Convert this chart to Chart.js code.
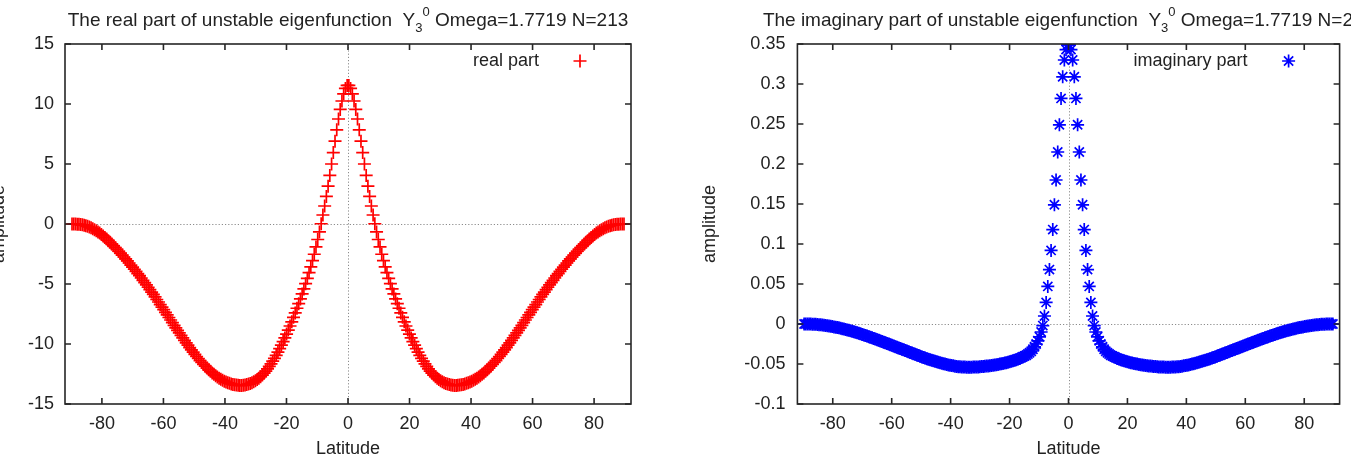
<!DOCTYPE html>
<html><head><meta charset="utf-8">
<script src="https://cdn.jsdelivr.net/npm/chart.js@4.4.1/dist/chart.umd.min.js"></script>
<style>
html,body{margin:0;padding:0;background:#fff;overflow:hidden;width:1351px;height:460px;position:relative;}
canvas{position:absolute;top:0;}
#c1{left:-20px;}
#c2{left:675px;}
</style></head><body>
<canvas id="c1" width="695" height="460"></canvas>
<canvas id="c2" width="676" height="460"></canvas>
<script>
// ---------------- data (Gaussian-like latitude grid, equator -> pole) ----------------
const latNorth = [
  0.28, 0.84, 1.41, 1.97, 2.53, 3.09, 3.66, 4.22, 4.78, 5.34,
  5.91, 6.47, 7.03, 7.59, 8.16, 8.72, 9.28, 9.84, 10.41, 10.97,
  11.53, 12.09, 12.66, 13.22, 13.78, 14.34, 14.91, 15.47, 16.03, 16.59,
  17.16, 17.72, 18.28, 18.84, 19.41, 19.97, 20.53, 21.09, 21.66, 22.22,
  22.78, 23.34, 23.91, 24.47, 25.03, 25.59, 26.16, 26.72, 27.28, 27.84,
  28.41, 28.97, 29.53, 30.09, 30.66, 31.22, 31.78, 32.34, 32.91, 33.47,
  34.03, 34.59, 35.16, 35.72, 36.28, 36.84, 37.41, 37.97, 38.53, 39.09,
  39.66, 40.22, 40.78, 41.34, 41.91, 42.47, 43.03, 43.59, 44.16, 44.72,
  45.28, 45.84, 46.41, 46.97, 47.53, 48.09, 48.66, 49.22, 49.78, 50.34,
  50.91, 51.47, 52.03, 52.59, 53.16, 53.72, 54.28, 54.84, 55.41, 55.97,
  56.53, 57.09, 57.66, 58.22, 58.78, 59.34, 59.91, 60.47, 61.03, 61.59,
  62.16, 62.72, 63.28, 63.84, 64.41, 64.97, 65.53, 66.09, 66.66, 67.22,
  67.78, 68.34, 68.91, 69.47, 70.03, 70.59, 71.16, 71.72, 72.28, 72.84,
  73.41, 73.97, 74.53, 75.09, 75.66, 76.22, 76.78, 77.34, 77.91, 78.47,
  79.03, 79.59, 80.16, 80.72, 81.28, 81.84, 82.41, 82.97, 83.53, 84.09,
  84.66, 85.22, 85.78, 86.34, 86.91, 87.47, 88.03, 88.59, 89.16, 89.72];
const latSouth = [
  -0.28, -0.84, -1.41, -1.97, -2.53, -3.09, -3.66, -4.22, -4.78, -5.34,
  -5.91, -6.47, -7.03, -7.59, -8.16, -8.72, -9.28, -9.84, -10.41, -10.97,
  -11.53, -12.09, -12.66, -13.22, -13.78, -14.34, -14.91, -15.47, -16.03, -16.59,
  -17.16, -17.72, -18.28, -18.84, -19.41, -19.97, -20.53, -21.09, -21.66, -22.22,
  -22.78, -23.34, -23.91, -24.47, -25.03, -25.59, -26.16, -26.72, -27.28, -27.84,
  -28.41, -28.97, -29.53, -30.09, -30.66, -31.22, -31.78, -32.34, -32.91, -33.47,
  -34.03, -34.59, -35.16, -35.72, -36.28, -36.84, -37.41, -37.97, -38.53, -39.09,
  -39.66, -40.22, -40.78, -41.34, -41.91, -42.47, -43.03, -43.59, -44.16, -44.72,
  -45.28, -45.84, -46.41, -46.97, -47.53, -48.09, -48.66, -49.22, -49.78, -50.34,
  -50.91, -51.47, -52.03, -52.59, -53.16, -53.72, -54.28, -54.84, -55.41, -55.97,
  -56.53, -57.09, -57.66, -58.22, -58.78, -59.34, -59.91, -60.47, -61.03, -61.59,
  -62.16, -62.72, -63.28, -63.84, -64.41, -64.97, -65.53, -66.09, -66.66, -67.22,
  -67.78, -68.34, -68.91, -69.47, -70.03, -70.59, -71.16, -71.72, -72.28, -72.84,
  -73.41, -73.97, -74.53, -75.09, -75.66, -76.22, -76.78, -77.34, -77.91, -78.47,
  -79.03, -79.59, -80.16, -80.72, -81.28, -81.84, -82.41, -82.97, -83.53, -84.09,
  -84.66, -85.22, -85.78, -86.34, -86.91, -87.47, -88.03, -88.59, -89.16, -89.72];

const realNorth = [
  11.55, 11.3, 10.85, 10.25, 9.55, 8.75, 7.85, 6.9, 5.95, 5.0,
  4.05, 3.15, 2.3, 1.5, 0.75, 0.02, -0.66, -1.29, -1.91, -2.52,
  -3.05, -3.58, -4.06, -4.53, -4.97, -5.41, -5.83, -6.24, -6.64, -7.02,
  -7.41, -7.78, -8.15, -8.5, -8.84, -9.17, -9.49, -9.8, -10.1, -10.39,
  -10.67, -10.94, -11.2, -11.43, -11.66, -11.87, -12.07, -12.26, -12.43, -12.59,
  -12.73, -12.85, -12.96, -13.06, -13.15, -13.22, -13.29, -13.34, -13.38, -13.41,
  -13.44, -13.45, -13.45, -13.44, -13.42, -13.4, -13.37, -13.33, -13.28, -13.23,
  -13.17, -13.1, -13.02, -12.94, -12.85, -12.75, -12.64, -12.53, -12.41, -12.28,
  -12.14, -12.0, -11.85, -11.7, -11.54, -11.38, -11.21, -11.04, -10.86, -10.68,
  -10.49, -10.3, -10.1, -9.9, -9.7, -9.49, -9.28, -9.07, -8.86, -8.65,
  -8.44, -8.22, -8.0, -7.79, -7.58, -7.36, -7.14, -6.93, -6.72, -6.5,
  -6.29, -6.08, -5.87, -5.67, -5.47, -5.27, -5.07, -4.88, -4.69, -4.5,
  -4.31, -4.13, -3.95, -3.77, -3.59, -3.42, -3.25, -3.08, -2.91, -2.75,
  -2.59, -2.43, -2.27, -2.12, -1.97, -1.82, -1.67, -1.53, -1.39, -1.25,
  -1.12, -0.99, -0.87, -0.76, -0.66, -0.56, -0.47, -0.39, -0.32, -0.25,
  -0.19, -0.14, -0.1, -0.07, -0.05, -0.03, -0.02, -0.01, 0.0, 0.0];
const realSouth = [
  11.55, 11.3, 10.85, 10.25, 9.55, 8.75, 7.85, 6.9, 5.95, 5.0,
  4.05, 3.15, 2.3, 1.5, 0.75, 0.02, -0.66, -1.29, -1.91, -2.52,
  -3.05, -3.58, -4.06, -4.53, -4.97, -5.41, -5.83, -6.24, -6.64, -7.02,
  -7.41, -7.78, -8.15, -8.5, -8.84, -9.17, -9.49, -9.8, -10.1, -10.39,
  -10.67, -10.94, -11.2, -11.43, -11.66, -11.87, -12.07, -12.26, -12.43, -12.59,
  -12.73, -12.85, -12.96, -13.06, -13.15, -13.22, -13.29, -13.34, -13.38, -13.41,
  -13.44, -13.45, -13.45, -13.44, -13.42, -13.4, -13.37, -13.33, -13.28, -13.23,
  -13.17, -13.1, -13.02, -12.94, -12.85, -12.75, -12.64, -12.53, -12.41, -12.28,
  -12.14, -12.0, -11.85, -11.7, -11.54, -11.38, -11.21, -11.04, -10.86, -10.68,
  -10.49, -10.3, -10.1, -9.9, -9.7, -9.49, -9.28, -9.07, -8.86, -8.65,
  -8.44, -8.22, -8.0, -7.79, -7.58, -7.36, -7.14, -6.93, -6.72, -6.5,
  -6.29, -6.08, -5.87, -5.67, -5.47, -5.27, -5.07, -4.88, -4.69, -4.5,
  -4.31, -4.13, -3.95, -3.77, -3.59, -3.42, -3.25, -3.08, -2.91, -2.75,
  -2.59, -2.43, -2.27, -2.12, -1.97, -1.82, -1.67, -1.53, -1.39, -1.25,
  -1.12, -0.99, -0.87, -0.76, -0.66, -0.56, -0.47, -0.39, -0.32, -0.25,
  -0.19, -0.14, -0.1, -0.07, -0.05, -0.03, -0.02, -0.01, 0.0, 0.0];

const imagNorth = [
  0.349, 0.343, 0.330, 0.309, 0.282, 0.249, 0.215, 0.180, 0.149, 0.118,
  0.092, 0.068, 0.047, 0.027, 0.010, -0.002, -0.010, -0.016, -0.021, -0.025,
  -0.0285, -0.0315, -0.034, -0.036, -0.0375, -0.039, -0.040, -0.041, -0.042, -0.043,
  -0.0438, -0.0446, -0.0453, -0.046, -0.0466, -0.0472, -0.0478, -0.0483, -0.0488, -0.0493,
  -0.0497, -0.0501, -0.0505, -0.0509, -0.0512, -0.0515, -0.0518, -0.0521, -0.0524, -0.0526,
  -0.0528, -0.053, -0.0532, -0.0534, -0.0536, -0.0537, -0.0538, -0.0539, -0.054, -0.054,
  -0.054, -0.054, -0.0539, -0.0538, -0.0537, -0.0535, -0.0533, -0.053, -0.0527, -0.0523,
  -0.0519, -0.0515, -0.0511, -0.0506, -0.0501, -0.0496, -0.0491, -0.0485, -0.0479, -0.0473,
  -0.0467, -0.046, -0.0454, -0.0447, -0.044, -0.0433, -0.0426, -0.0418, -0.0411, -0.0403,
  -0.0395, -0.0387, -0.0379, -0.0371, -0.0363, -0.0355, -0.0347, -0.0339, -0.0331, -0.0323,
  -0.0315, -0.0307, -0.0299, -0.0291, -0.0283, -0.0275, -0.0267, -0.0259, -0.0251, -0.0243,
  -0.0235, -0.0227, -0.0219, -0.0211, -0.0203, -0.0196, -0.0188, -0.0181, -0.0173, -0.0166,
  -0.0158, -0.0151, -0.0144, -0.0137, -0.013, -0.0123, -0.0116, -0.011, -0.0103, -0.0097,
  -0.0091, -0.0085, -0.0079, -0.0074, -0.0068, -0.0063, -0.0058, -0.0053, -0.0048, -0.0044,
  -0.004, -0.0036, -0.0032, -0.0028, -0.0024, -0.0021, -0.0018, -0.0015, -0.0012, -0.001,
  -0.0008, -0.0006, -0.0004, -0.0003, -0.0002, -0.0001, 0.0, 0.0, 0.0, 0.0];
const imagSouth = [
  0.349, 0.343, 0.330, 0.309, 0.282, 0.249, 0.215, 0.180, 0.149, 0.118,
  0.092, 0.068, 0.047, 0.027, 0.010, -0.002, -0.010, -0.016, -0.021, -0.025,
  -0.0285, -0.0315, -0.034, -0.036, -0.0375, -0.039, -0.040, -0.041, -0.042, -0.043,
  -0.0438, -0.0446, -0.0453, -0.046, -0.0466, -0.0472, -0.0478, -0.0483, -0.0488, -0.0493,
  -0.0497, -0.0501, -0.0505, -0.0509, -0.0512, -0.0515, -0.0518, -0.0521, -0.0524, -0.0526,
  -0.0528, -0.053, -0.0532, -0.0534, -0.0536, -0.0537, -0.0538, -0.0539, -0.054, -0.054,
  -0.054, -0.054, -0.0539, -0.0538, -0.0537, -0.0535, -0.0533, -0.053, -0.0527, -0.0523,
  -0.0519, -0.0515, -0.0511, -0.0506, -0.0501, -0.0496, -0.0491, -0.0485, -0.0479, -0.0473,
  -0.0467, -0.046, -0.0454, -0.0447, -0.044, -0.0433, -0.0426, -0.0418, -0.0411, -0.0403,
  -0.0395, -0.0387, -0.0379, -0.0371, -0.0363, -0.0355, -0.0347, -0.0339, -0.0331, -0.0323,
  -0.0315, -0.0307, -0.0299, -0.0291, -0.0283, -0.0275, -0.0267, -0.0259, -0.0251, -0.0243,
  -0.0235, -0.0227, -0.0219, -0.0211, -0.0203, -0.0196, -0.0188, -0.0181, -0.0173, -0.0166,
  -0.0158, -0.0151, -0.0144, -0.0137, -0.013, -0.0123, -0.0116, -0.011, -0.0103, -0.0097,
  -0.0091, -0.0085, -0.0079, -0.0074, -0.0068, -0.0063, -0.0058, -0.0053, -0.0048, -0.0044,
  -0.004, -0.0036, -0.0032, -0.0028, -0.0024, -0.0021, -0.0018, -0.0015, -0.0012, -0.001,
  -0.0008, -0.0006, -0.0004, -0.0003, -0.0002, -0.0001, 0.0, 0.0, 0.0, 0.0];

const xTickValues = [-80, -60, -40, -20, 0, 20, 40, 60, 80];
const realTickValues = [-15, -10, -5, 0, 5, 10, 15];
const imagTickValues = [-0.1, -0.05, 0, 0.05, 0.1, 0.15, 0.2, 0.25, 0.3, 0.35];

// ---------------- drawing ----------------
const FONT = '"Liberation Sans", Arial, Helvetica, sans-serif';
Chart.defaults.font.family = FONT;
Chart.defaults.font.size = 18;
Chart.defaults.color = '#222';

function toPoints(lats, vals) { return lats.map((l, i) => ({x: l, y: vals[i]})); }

function drawMarker(ctx, kind, cx, cy, r) {
  ctx.beginPath();
  ctx.moveTo(cx - r, cy); ctx.lineTo(cx + r, cy);
  ctx.moveTo(cx, cy - r); ctx.lineTo(cx, cy + r);
  if (kind === 'star') {
    const d = r * Math.SQRT1_2;
    ctx.moveTo(cx - d, cy - d); ctx.lineTo(cx + d, cy + d);
    ctx.moveTo(cx - d, cy + d); ctx.lineTo(cx + d, cy - d);
  }
  ctx.stroke();
}

const gnuplotFrame = {
  id: 'gnuplotFrame',
  beforeDatasetsDraw(chart) {
    const {ctx, chartArea: a} = chart;
    const x = chart.scales.x, y = chart.scales.y;
    ctx.save();
    ctx.strokeStyle = '#8c8c8c';
    ctx.lineWidth = 1;
    ctx.setLineDash([1.2, 2]);
    const y0 = Math.round(y.getPixelForValue(0)) + 0.5;
    const x0 = Math.round(x.getPixelForValue(0)) + 0.5;
    ctx.beginPath();
    ctx.moveTo(a.left, y0); ctx.lineTo(a.right, y0);
    ctx.moveTo(x0, a.top); ctx.lineTo(x0, a.bottom);
    ctx.stroke();
    ctx.restore();
  },
  afterDatasetsDraw(chart, args, o) {
    const {ctx, chartArea: a} = chart;
    const x = chart.scales.x, y = chart.scales.y;
    ctx.save();
    ctx.strokeStyle = '#262626';
    ctx.lineWidth = 1.6;
    ctx.strokeRect(a.left, a.top, a.right - a.left, a.bottom - a.top);
    const tl = 6;
    ctx.beginPath();
    x.ticks.forEach(t => {
      const px = x.getPixelForValue(t.value);
      ctx.moveTo(px, a.bottom); ctx.lineTo(px, a.bottom - tl);
      ctx.moveTo(px, a.top); ctx.lineTo(px, a.top + tl);
    });
    y.ticks.forEach(t => {
      const py = y.getPixelForValue(t.value);
      ctx.moveTo(a.left, py); ctx.lineTo(a.left + tl, py);
      ctx.moveTo(a.right, py); ctx.lineTo(a.right - tl, py);
    });
    ctx.stroke();
    // legend (text then sample marker, gnuplot style)
    const ly = a.top + 17;
    ctx.font = '18px ' + FONT;
    ctx.fillStyle = '#222';
    ctx.textAlign = 'right';
    ctx.textBaseline = 'middle';
    ctx.fillText(o.legendText, a.right - 92, ly);
    ctx.strokeStyle = o.color;
    ctx.lineWidth = 1.7;
    drawMarker(ctx, o.marker, a.right - 51, ly, 6.5);
    ctx.restore();
  },
  afterDraw(chart, args, o) {
    const {ctx, chartArea: a} = chart;
    ctx.save();
    const big = '19px ' + FONT, small = '13px ' + FONT;
    ctx.font = big; const w1 = ctx.measureText(o.titleHead).width;
    const w4 = ctx.measureText(o.titleTail).width;
    ctx.font = small; const w2 = ctx.measureText(o.titleSub).width;
    const w3 = ctx.measureText(o.titleSup).width;
    const total = w1 + w2 + w3 + w4;
    let sx = (a.left + a.right) / 2 - total / 2;
    const base = 26;
    ctx.fillStyle = '#222';
    ctx.textAlign = 'left';
    ctx.textBaseline = 'alphabetic';
    ctx.font = big; ctx.fillText(o.titleHead, sx, base); sx += w1;
    ctx.font = small; ctx.fillText(o.titleSub, sx, base + 6); sx += w2;
    ctx.fillText(o.titleSup, sx, base - 10); sx += w3;
    ctx.font = big; ctx.fillText(o.titleTail, sx, base);
    ctx.restore();
  }
};

function makeChart(id, cfg) {
  return new Chart(document.getElementById(id), {
    type: 'scatter',
    data: {datasets: [{
      label: cfg.legendText,
      data: cfg.points,
      pointStyle: cfg.marker,
      pointRadius: 6.5,
      pointHoverRadius: 6.5,
      pointBorderColor: cfg.color,
      pointBackgroundColor: cfg.color,
      pointBorderWidth: 1.7,
      showLine: false,
      clip: 0
    }]},
    options: {
      responsive: false,
      animation: false,
      devicePixelRatio: 1,
      events: [],
      layout: {padding: {left: 0, right: cfg.padRight, top: 44, bottom: 0}},
      plugins: {
        legend: {display: false},
        title: {display: false},
        tooltip: {enabled: false},
        gnuplotFrame: {
          legendText: cfg.legendText, marker: cfg.marker, color: cfg.color,
          titleHead: cfg.titleHead, titleSub: '3', titleSup: '0',
          titleTail: ' Omega=1.7719 N=213'
        }
      },
      scales: {
        x: {
          type: 'linear', min: -92, max: 92,
          afterBuildTicks: s => { s.ticks = xTickValues.map(v => ({value: v})); },
          afterFit: s => { s.height = 56; },
          grid: {display: false, drawTicks: false},
          border: {display: false},
          ticks: {padding: 9, maxRotation: 0, autoSkip: false, callback: v => String(v)},
          title: {display: true, text: 'Latitude', padding: {top: 0, bottom: 0}}
        },
        y: {
          type: 'linear', min: cfg.yMin, max: cfg.yMax,
          afterBuildTicks: s => { s.ticks = cfg.yTicks.map(v => ({value: v})); },
          afterFit: s => { s.width = cfg.yWidth; },
          grid: {display: false, drawTicks: false},
          border: {display: false},
          ticks: {padding: cfg.yPad, autoSkip: false, callback: v => String(v)},
          title: {display: true, text: 'amplitude', padding: {top: cfg.yTitlePad, bottom: 0}}
        }
      }
    },
    plugins: [gnuplotFrame]
  });
}

makeChart('c1', {
  points: toPoints(latSouth.concat(latNorth), realSouth.concat(realNorth)),
  legendText: 'real part', marker: 'cross', color: '#ff0000',
  titleHead: 'The real part of unstable eigenfunction  Y',
  yMin: -15, yMax: 15, yTicks: realTickValues,
  yWidth: 85, padRight: 44, yPad: 11, yTitlePad: 8.2
});
makeChart('c2', {
  points: toPoints(latSouth.concat(latNorth), imagSouth.concat(imagNorth)),
  legendText: 'imaginary part', marker: 'star', color: '#0000ff',
  titleHead: 'The imaginary part of unstable eigenfunction  Y',
  yMin: -0.1, yMax: 0.35, yTicks: imagTickValues,
  yWidth: 122.4, padRight: 11.4, yPad: 12, yTitlePad: 24.2
});
</script>
</body></html>
